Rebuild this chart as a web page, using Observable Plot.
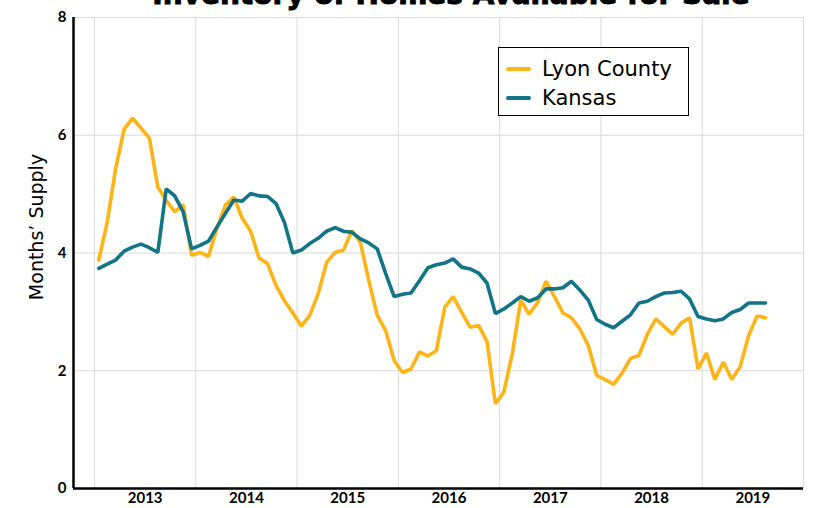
<!DOCTYPE html>
<html><head><meta charset="utf-8">
<script src="https://cdn.jsdelivr.net/npm/d3@7"></script>
<script src="https://cdn.jsdelivr.net/npm/@observablehq/plot@0.6"></script>
<style>
body{margin:0;background:#fff;overflow:hidden;}
#wrap{position:relative;width:814px;height:508px;overflow:hidden;}
#title{position:absolute;left:0;width:902px;text-align:center;top:-19px;font:bold 28px "DejaVu Sans", sans-serif;color:#000;white-space:nowrap;line-height:28px;z-index:2;-webkit-text-stroke:0.9px #000}
#legend{position:absolute;left:498px;top:47px;width:189px;height:67px;border:1px solid #000;background:#fff;font:21px "DejaVu Sans",sans-serif;color:#000;z-index:2}
.item{position:absolute;left:7px;display:flex;align-items:center;height:26px;line-height:26px}
.sw{width:25px;height:4px;border-radius:2px;margin-right:11px}
svg{position:absolute;left:0;top:0}
</style>
</head><body>
<div id="wrap">
<div id="title">Inventory of Homes Available for Sale</div>
<div id="legend"></div>
</div>
<script>
const years = ["2013","2014","2015","2016","2017","2018","2019"];
const seriesNames = ["Lyon County","Kansas"];
const colors = ["#FDB414","#117587"];
const lyon = [3.88,4.52,5.43,6.10,6.29,6.12,5.95,5.12,4.89,4.70,4.82,3.96,
4.01,3.94,4.42,4.81,4.95,4.59,4.37,3.91,3.82,3.45,3.19,2.98,
2.76,2.94,3.31,3.84,4.01,4.05,4.38,4.18,3.53,2.94,2.68,2.17,
1.97,2.03,2.32,2.25,2.34,3.08,3.26,2.99,2.74,2.77,2.50,1.44,
1.64,2.29,3.20,2.96,3.16,3.52,3.26,2.98,2.90,2.71,2.43,1.92,
1.85,1.77,1.96,2.21,2.26,2.62,2.88,2.75,2.62,2.81,2.90,2.03,
2.30,1.85,2.15,1.85,2.07,2.60,2.93,2.90];
const kansas = [3.74,3.81,3.88,4.03,4.10,4.15,4.09,4.01,5.09,4.97,4.70,4.07,
4.13,4.20,4.44,4.67,4.90,4.88,5.01,4.97,4.96,4.84,4.52,4.00,
4.05,4.16,4.25,4.37,4.43,4.37,4.35,4.24,4.17,4.07,3.65,3.26,
3.30,3.32,3.53,3.75,3.80,3.83,3.90,3.76,3.73,3.66,3.49,2.97,
3.05,3.15,3.26,3.18,3.24,3.39,3.39,3.41,3.52,3.37,3.20,2.87,
2.79,2.73,2.84,2.95,3.15,3.18,3.26,3.32,3.33,3.35,3.22,2.92,
2.88,2.85,2.88,2.99,3.04,3.15,3.15,3.15];
const yTicks = [0,2,4,6,8];

// month index (0 = Jan 2013), plotted at month centre
const rows = [];
lyon.forEach((v,i)=>rows.push({m:i+0.5,v,s:seriesNames[0]}));
kansas.forEach((v,i)=>rows.push({m:i+0.5,v,s:seriesNames[1]}));
const yearBounds = d3.range(years.length+1).map(k=>k*12);
const yearMids = years.map((y,k)=>k*12+6);
const xDomain = [-2.49, years.length*12];

const chart = Plot.plot({
  width:814, height:508,
  marginLeft:73, marginRight:11, marginTop:17, marginBottom:20,
  style:{background:"transparent", fontFamily:"Lato, sans-serif"},
  x:{type:"linear", domain:xDomain, axis:null},
  y:{domain:[0,8], axis:null},
  color:{domain:seriesNames, range:colors},
  marks:[
    Plot.ruleY(yTicks.filter(d=>d>0), {stroke:"#d9d9d9", strokeWidth:1}),
    Plot.ruleX(yearBounds, {y1:0, y2:8, stroke:"#d9d9d9", strokeWidth:1}),
    Plot.line(rows, {x:"m", y:"v", z:"s", stroke:"s", strokeWidth:3.6, strokeLinejoin:"miter"}),
    Plot.ruleY([0], {stroke:"#000", strokeWidth:2.5}),
    Plot.ruleX([xDomain[0]], {y1:0, y2:8, stroke:"#000", strokeWidth:2.5}),
    Plot.axisY({ticks:yTicks, tickSize:0, tickPadding:7, fontSize:15, fontWeight:"bold", label:null, fill:"#000"}),
    Plot.axisX({ticks:yearMids, tickSize:0, tickPadding:4, tickFormat:(d)=>years[(d-6)/12], fontSize:15, fontWeight:"bold", label:null, fill:"#000"}),
    Plot.text(["Months’ Supply"], {frameAnchor:"left", textAnchor:"middle", rotate:-90, dx:-37, dy:-26, fontSize:19, fontFamily:"DejaVu Sans", fill:"#000"})
  ]
});
document.getElementById("wrap").appendChild(chart);

const lg = document.getElementById("legend");
seriesNames.forEach((n,i)=>{
  const it = document.createElement("div");
  it.className="item";
  it.style.top = (8 + i*29) + "px";
  it.innerHTML = `<span class="sw" style="background:${colors[i]}"></span><span>${n}</span>`;
  lg.appendChild(it);
});
</script>
</body></html>
